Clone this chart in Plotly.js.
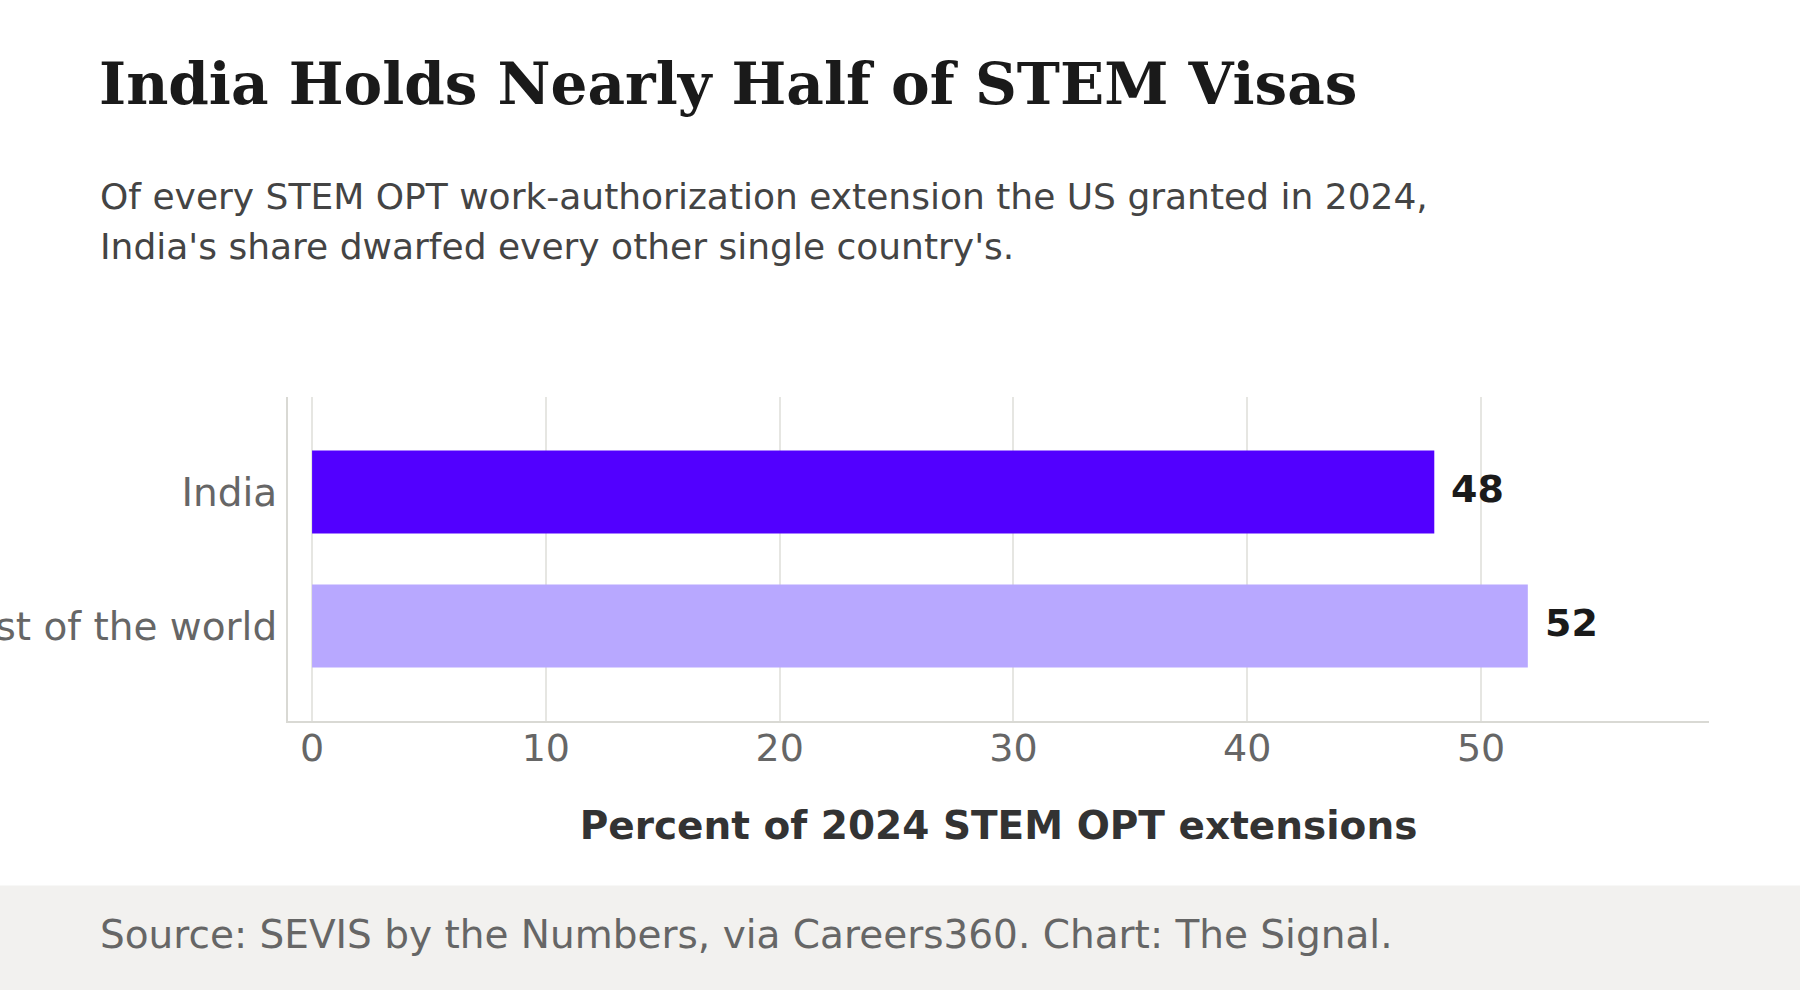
<!DOCTYPE html>
<html>
<head>
<meta charset="utf-8">
<script src="https://cdn.plot.ly/plotly-3.0.1.min.js"></script>
<style>
  html, body { margin: 0; padding: 0; background: #fff; }
  #chart { width: 1800px; height: 990px; }
</style>
</head>
<body>
<div id="chart"></div>
<script>
// data
let categories = ['Rest of the world', 'India']
let shares = [52, 48]
let barColors = ['#b8a8ff', '#5200ff']
let xTicks = [0, 10, 20, 30, 40, 50]

let titleText = 'India Holds Nearly Half of STEM Visas'
let subtitleLines = [
    'Of every STEM OPT work-authorization extension the US granted in 2024,',
    "India's share dwarfed every other single country's."
]
let sourceText = 'Source: SEVIS by the Numbers, via Careers360. Chart: The Signal.'
let xTitle = 'Percent of 2024 STEM OPT extensions'

let sans = 'DejaVu Sans, Verdana, sans-serif'

// value labels sit just right of each bar end
let valueLabels = categories.map((c, i) => ({
    x: shares[i],
    y: c,
    xref: 'x',
    yref: 'y',
    text: String(shares[i]),
    showarrow: false,
    xanchor: 'left',
    yanchor: 'middle',
    xshift: 15,
    yshift: 3,
    font: { family: sans, size: 38, color: '#1a1a1a', weight: 'bold' }
}))

let textNotes = [
    {
        x: -0.1339, y: 1.618, xref: 'paper', yref: 'paper',
        text: subtitleLines[0], showarrow: false, xanchor: 'left', yanchor: 'middle',
        font: { family: sans, size: 36, color: '#444444' }
    },
    {
        x: -0.1339, y: 1.464, xref: 'paper', yref: 'paper',
        text: subtitleLines[1], showarrow: false, xanchor: 'left', yanchor: 'middle',
        font: { family: sans, size: 36, color: '#444444' }
    },
    {
        x: -0.1339, y: -0.659, xref: 'paper', yref: 'paper',
        text: sourceText, showarrow: false, xanchor: 'left', yanchor: 'middle',
        font: { family: sans, size: 39, color: '#666666' }
    }
]

let plot = document.getElementById('chart')

Plotly.newPlot(plot, [{
    type: 'bar',
    orientation: 'h',
    x: shares,
    y: categories,
    width: 0.62,
    marker: { color: barColors, line: { width: 0 } },
    hoverinfo: 'none'
}], {
    width: 1800,
    height: 990,
    paper_bgcolor: '#ffffff',
    plot_bgcolor: '#ffffff',
    showlegend: false,
    margin: { l: 288, r: 91, t: 397, b: 269, pad: 0 },
    title: {
        text: '<b>' + titleText + '</b>',
        x: 99 / 1800,
        xref: 'container',
        xanchor: 'left',
        y: 1 - 84 / 990,
        yref: 'container',
        yanchor: 'middle',
        font: { family: 'DejaVu Serif, serif', size: 58, color: '#1a1a1a' }
    },
    xaxis: {
        range: [-1.03, 59.75],
        tickvals: xTicks,
        ticktext: xTicks.map(String),
        showgrid: true,
        gridcolor: '#e6e6e2',
        gridwidth: 2,
        zeroline: false,
        showline: true,
        linecolor: '#d9d9d4',
        linewidth: 2,
        ticks: '',
        ticklabelstandoff: -8,
        tickfont: { family: sans, size: 38, color: '#666666' },
        title: {
            text: '<b>' + xTitle + '</b>',
            standoff: 43,
            font: { family: sans, size: 39, color: '#333333' }
        },
        fixedrange: true
    },
    yaxis: {
        type: 'category',
        categoryorder: 'array',
        categoryarray: categories,
        range: [-0.71, 1.71],
        showgrid: false,
        zeroline: false,
        showline: true,
        linecolor: '#d9d9d4',
        linewidth: 2,
        ticks: '',
        ticklabelstandoff: 1,
        tickfont: { family: sans, size: 39, color: '#666666' },
        fixedrange: true
    },
    shapes: [{
        type: 'rect',
        xref: 'paper',
        yref: 'paper',
        x0: -0.21, x1: 1.07,
        y0: -0.84, y1: -0.5077,
        fillcolor: '#f2f1ef',
        line: { width: 0 },
        layer: 'below'
    }],
    annotations: valueLabels.concat(textNotes)
}, { displayModeBar: false, staticPlot: true });
</script>
</body>
</html>
